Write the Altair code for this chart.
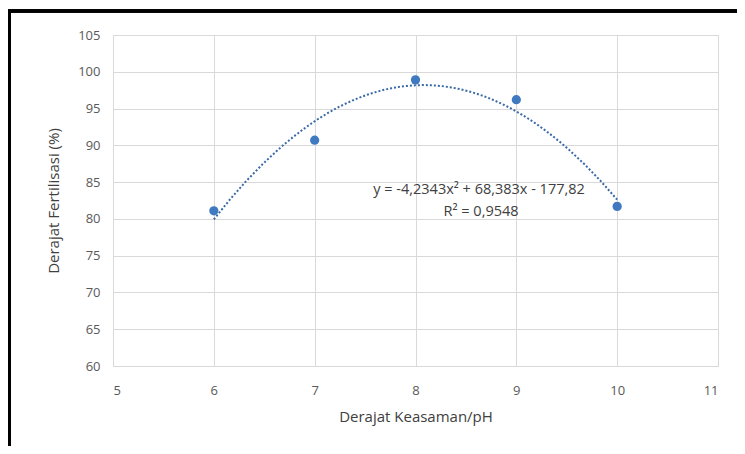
import altair as alt
import pandas as pd

ph = [6, 7, 8, 9, 10]
fertilisasi = [81.1, 90.7, 98.9, 96.2, 81.7]
eq_text = ["y = -4,2343x² + 68,383x - 177,82", "R² = 0,9548"]
eq_x = [8.63, 8.65]
eq_y = [83.9, 80.95]

df = pd.DataFrame({"ph": ph, "fert": fertilisasi})
lab = pd.DataFrame({"t": eq_text, "x": eq_x, "y": eq_y})

FONT = "Open Sans"
BLUE = "#3f7ac0"

xs = alt.Scale(domain=[5, 11], nice=False, zero=False)
ys = alt.Scale(domain=[60, 105], nice=False, zero=False)

xaxis = alt.Axis(title="Derajat Keasaman/pH", values=[5, 6, 7, 8, 9, 10, 11], format="d",
                 grid=True, gridColor="#d9d9d9", domain=False, ticks=False,
                 labelColor="#595959", labelFont=FONT, labelFontSize=13,
                 labelPadding=18, titleFont=FONT, titleFontSize=15,
                 titleFontWeight="normal", titleColor="#404040", titlePadding=12)
yaxis = alt.Axis(title="Derajat Fertilisasi (%)", values=list(range(60, 106, 5)), format="d",
                 grid=True, gridColor="#d9d9d9", domain=False, ticks=False,
                 labelColor="#595959", labelFont=FONT, labelFontSize=13,
                 labelPadding=13, titleFont=FONT, titleFontSize=15,
                 titleFontWeight="normal", titleColor="#404040", titlePadding=16)

base = alt.Chart(df)

pts = base.mark_circle(size=85, color=BLUE, opacity=1).encode(
    x=alt.X("ph:Q", scale=xs, axis=xaxis),
    y=alt.Y("fert:Q", scale=ys, axis=yaxis),
)

trend = base.transform_regression("ph", "fert", method="poly", order=2, extent=[6, 10]).mark_line(
    color="#3a6aa8", strokeDash=[2, 2], strokeWidth=2
).encode(x=alt.X("ph:Q", scale=xs, axis=xaxis), y=alt.Y("fert:Q", scale=ys, axis=yaxis))

txt = alt.Chart(lab).mark_text(font=FONT, fontSize=14.5, color="#404040").encode(
    x=alt.X("x:Q", scale=xs, axis=xaxis), y=alt.Y("y:Q", scale=ys, axis=yaxis), text="t:N"
)

border_top = alt.Chart(df).mark_rule(color="black", strokeWidth=3).encode(
    x=alt.value(-105), x2=alt.value(640), y=alt.value(-24)
)
border_left = alt.Chart(df).mark_rule(color="black", strokeWidth=3).encode(
    x=alt.value(-103.5), y=alt.value(-25), y2=alt.value(420)
)

chart = alt.layer(pts, trend, txt, border_top, border_left).properties(
    width=605, height=331,
    padding={"left": 105, "top": 27, "right": 19, "bottom": 80},
    autosize=alt.AutoSizeParams(type="none"),
    background="white",
).configure_view(stroke="#d9d9d9")

chart.save("out.html", embed_options={"renderer": "svg", "actions": False})
